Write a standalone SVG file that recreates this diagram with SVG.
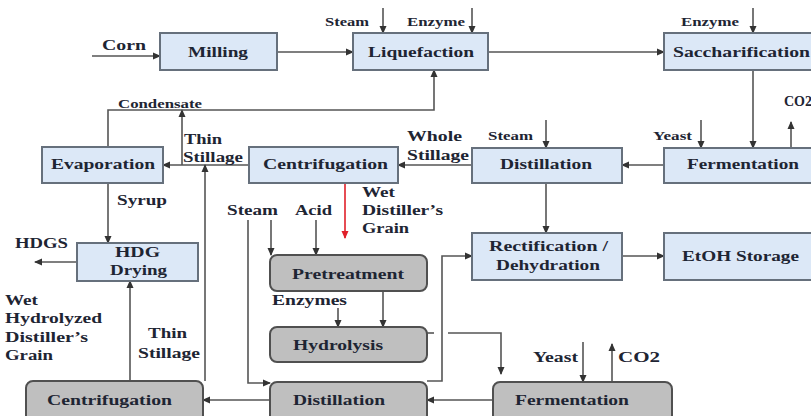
<svg xmlns="http://www.w3.org/2000/svg" width="811" height="416" viewBox="0 0 811 416">
<defs>
<marker id="ah" markerUnits="userSpaceOnUse" markerWidth="8" markerHeight="8" refX="7" refY="4" orient="auto"><path d="M0,0.5 L8,4 L0,7.5 z" fill="#333"/></marker>
<marker id="ahr" markerUnits="userSpaceOnUse" markerWidth="8" markerHeight="8" refX="7" refY="4" orient="auto"><path d="M0,0.5 L8,4 L0,7.5 z" fill="#e0202a"/></marker>
<style>
.b{fill:#dce8f7;stroke:#66707c;stroke-width:2}
.g{fill:#bfbfbf;stroke:#505050;stroke-width:2}
.c{fill:none;stroke:#555;stroke-width:1.6;marker-end:url(#ah)}
.n{fill:none;stroke:#555;stroke-width:1.6}
text{font-family:"Liberation Serif","Times New Roman",serif;font-weight:bold;fill:#1e2533}
.t{font-size:15px}
.s{font-size:12px}
.l{font-size:14px}
</style>
</defs>
<rect width="811" height="416" fill="#fff"/>
<g id="connectors">
<path class="c" d="M92,56 H160"/>
<path class="c" d="M277,52 H353"/>
<path class="c" d="M383,8 V33"/>
<path class="c" d="M472,8 V33"/>
<path class="c" d="M488,52 H664"/>
<path class="c" d="M753,8 V33"/>
<path class="c" d="M753,70 V148"/>
<path class="c" d="M791,148 V122"/>
<path class="c" d="M701,120 V148"/>
<path class="c" d="M664,165 H622"/>
<path class="c" d="M546,120 V148"/>
<path class="c" d="M546,183 V233"/>
<path class="c" d="M622,256 H664"/>
<path class="c" d="M472,165 H398"/>
<path class="c" d="M249,165 H163"/>
<path class="c" d="M182,165 V110"/>
<path class="c" d="M108,147 V110 H434 V70"/>
<path class="c" d="M108,183 V243"/>
<path class="c" d="M77,262 H35"/>
<path class="c" d="M205,381 V165"/>
<path class="c" d="M130,381 V281"/>
<path class="c" d="M270,400 H203"/>
<path d="M345,183 V238" fill="none" stroke="#e0202a" stroke-width="1.6" marker-end="url(#ahr)"/>
<path class="c" d="M248,220 V383 H270"/>
<path class="c" d="M271,220 V255"/>
<path class="c" d="M316,220 V255"/>
<path class="c" d="M383,291 V327"/>
<path class="c" d="M338,308 V327"/>
<path class="n" d="M427,333 H434"/>
<path class="c" d="M448,333 H501 V374"/>
<path class="c" d="M427,381 H442 V256 H472"/>
<path class="c" d="M493,400 H427"/>
<path class="c" d="M583,342 V382"/>
<path class="c" d="M612,382 V344"/>
</g>
<g id="labels">
<text class="l" x="102" y="50" textLength="44" lengthAdjust="spacingAndGlyphs">Corn</text>
<text class="s" x="325" y="26" textLength="44" lengthAdjust="spacingAndGlyphs">Steam</text>
<text class="s" x="407" y="26" textLength="58" lengthAdjust="spacingAndGlyphs">Enzyme</text>
<text class="s" x="681" y="26" textLength="58" lengthAdjust="spacingAndGlyphs">Enzyme</text>
<text class="l" x="784" y="106">CO2</text>
<text class="s" x="653" y="140" textLength="39" lengthAdjust="spacingAndGlyphs">Yeast</text>
<text class="s" x="488" y="140" textLength="45" lengthAdjust="spacingAndGlyphs">Steam</text>
<text class="l" x="407" y="141" textLength="55" lengthAdjust="spacingAndGlyphs">Whole</text>
<text class="l" x="407" y="160" textLength="62" lengthAdjust="spacingAndGlyphs">Stillage</text>
<text class="l" x="184" y="144" textLength="38" lengthAdjust="spacingAndGlyphs">Thin</text>
<text class="l" x="183" y="162" textLength="60" lengthAdjust="spacingAndGlyphs">Stillage</text>
<text class="s" x="118" y="108" textLength="84" lengthAdjust="spacingAndGlyphs">Condensate</text>
<text class="l" x="117" y="205" textLength="50" lengthAdjust="spacingAndGlyphs">Syrup</text>
<text class="l" x="15" y="248" textLength="53" lengthAdjust="spacingAndGlyphs">HDGS</text>
<text class="l" x="362" y="197" textLength="33" lengthAdjust="spacingAndGlyphs">Wet</text>
<text class="l" x="362" y="215" textLength="81" lengthAdjust="spacingAndGlyphs">Distiller’s</text>
<text class="l" x="362" y="233" textLength="47" lengthAdjust="spacingAndGlyphs">Grain</text>
<text class="l" x="227" y="215" textLength="51" lengthAdjust="spacingAndGlyphs">Steam</text>
<text class="l" x="295" y="215" textLength="37" lengthAdjust="spacingAndGlyphs">Acid</text>
<text class="l" x="272" y="305" textLength="75" lengthAdjust="spacingAndGlyphs">Enzymes</text>
<text class="l" x="5" y="305" textLength="33" lengthAdjust="spacingAndGlyphs">Wet</text>
<text class="l" x="5" y="323" textLength="97" lengthAdjust="spacingAndGlyphs">Hydrolyzed</text>
<text class="l" x="5" y="342" textLength="83" lengthAdjust="spacingAndGlyphs">Distiller’s</text>
<text class="l" x="5" y="360" textLength="48" lengthAdjust="spacingAndGlyphs">Grain</text>
<text class="l" x="148" y="338" textLength="39" lengthAdjust="spacingAndGlyphs">Thin</text>
<text class="l" x="138" y="358" textLength="62" lengthAdjust="spacingAndGlyphs">Stillage</text>
<text class="l" x="533" y="362" textLength="45" lengthAdjust="spacingAndGlyphs">Yeast</text>
<text class="l" x="618" y="362" textLength="42" lengthAdjust="spacingAndGlyphs">CO2</text>
</g>
<g id="milling"><rect class="b" x="160" y="33" width="117" height="37"/><text class="t" x="188" y="57" textLength="60" lengthAdjust="spacingAndGlyphs">Milling</text></g>
<g id="liquefaction"><rect class="b" x="353" y="33" width="135" height="37"/><text class="t" x="368" y="57" textLength="106" lengthAdjust="spacingAndGlyphs">Liquefaction</text></g>
<g id="saccharification"><rect class="b" x="664" y="33" width="152" height="37"/><text class="t" x="673" y="57" textLength="137" lengthAdjust="spacingAndGlyphs">Saccharification</text></g>
<g id="evaporation"><rect class="b" x="42" y="147" width="121" height="36"/><text class="t" x="51" y="169" textLength="104" lengthAdjust="spacingAndGlyphs">Evaporation</text></g>
<g id="centrifugation1"><rect class="b" x="249" y="147" width="149" height="36"/><text class="t" x="263" y="169" textLength="125" lengthAdjust="spacingAndGlyphs">Centrifugation</text></g>
<g id="distillation1"><rect class="b" x="472" y="148" width="150" height="35"/><text class="t" x="500" y="169" textLength="92" lengthAdjust="spacingAndGlyphs">Distillation</text></g>
<g id="fermentation1"><rect class="b" x="664" y="148" width="152" height="35"/><text class="t" x="687" y="169" textLength="112" lengthAdjust="spacingAndGlyphs">Fermentation</text></g>
<g id="rectification"><rect class="b" x="472" y="233" width="150" height="47"/><text class="t" x="489" y="251" textLength="119" lengthAdjust="spacingAndGlyphs">Rectification /</text><text class="t" x="496" y="270" textLength="104" lengthAdjust="spacingAndGlyphs">Dehydration</text></g>
<g id="etoh"><rect class="b" x="664" y="233" width="152" height="47"/><text class="t" x="682" y="261" textLength="117" lengthAdjust="spacingAndGlyphs">EtOH Storage</text></g>
<g id="hdg"><rect class="b" x="77" y="243" width="121" height="38"/><text class="t" x="115" y="257" textLength="45" lengthAdjust="spacingAndGlyphs">HDG</text><text class="t" x="110" y="275" textLength="57" lengthAdjust="spacingAndGlyphs">Drying</text></g>
<g id="pretreatment"><rect class="g" x="270" y="255" width="157" height="36" rx="7"/><text class="t" x="292" y="279" textLength="112" lengthAdjust="spacingAndGlyphs">Pretreatment</text></g>
<g id="hydrolysis"><rect class="g" x="270" y="327" width="157" height="35" rx="7"/><text class="t" x="293" y="350" textLength="90" lengthAdjust="spacingAndGlyphs">Hydrolysis</text></g>
<g id="distillation2"><rect class="g" x="270" y="382" width="157" height="40" rx="7"/><text class="t" x="293" y="405" textLength="92" lengthAdjust="spacingAndGlyphs">Distillation</text></g>
<g id="centrifugation2"><rect class="g" x="26" y="381" width="177" height="41" rx="7"/><text class="t" x="47" y="405" textLength="125" lengthAdjust="spacingAndGlyphs">Centrifugation</text></g>
<g id="fermentation2"><rect class="g" x="493" y="382" width="179" height="40" rx="7"/><text class="t" x="515" y="405" textLength="114" lengthAdjust="spacingAndGlyphs">Fermentation</text></g>
</svg>
